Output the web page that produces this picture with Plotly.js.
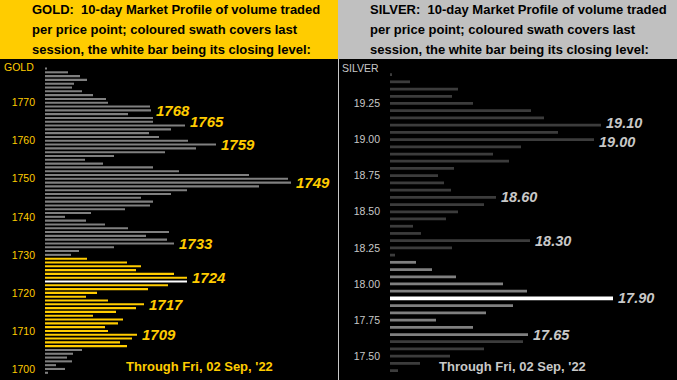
<!DOCTYPE html>
<html>
<head>
<meta charset="utf-8">
<script src="https://cdn.plot.ly/plotly-3.0.1.min.js"></script>
<style>
  html, body { margin: 0; padding: 0; background: #000; }
  #chart { width: 677px; height: 380px; }
</style>
</head>
<body>
<div id="chart"></div>
<script>
// ---------------- DATA ----------------
// GOLD: price levels ($1 steps) and 10-day volume profile (relative units)
const goldPrices = [
  1779, 1778, 1777, 1776, 1775, 1774, 1773, 1772, 1771, 1770,
  1769, 1768, 1767, 1766, 1765, 1764, 1763, 1762, 1761, 1760,
  1759, 1758, 1757, 1756, 1755, 1754, 1753, 1752, 1751, 1750,
  1749, 1748, 1747, 1746, 1745, 1744, 1743, 1742, 1741, 1740,
  1739, 1738, 1737, 1736, 1735, 1734, 1733, 1732, 1731, 1730,
  1729, 1728, 1727, 1726, 1725, 1724, 1723, 1722, 1721, 1720,
  1719, 1718, 1717, 1716, 1715, 1714, 1713, 1712, 1711, 1710,
  1709, 1708, 1707, 1706, 1705, 1704, 1703, 1702, 1701, 1700, 1699
];
const goldVolume = [
  2, 23, 35, 42, 29, 27, 37, 48, 61, 63,
  105, 106, 83, 108, 108, 140, 126, 104, 114, 143,
  171, 151, 120, 69, 40, 58, 108, 134, 204, 243,
  246, 214, 142, 126, 96, 108, 105, 80, 46, 20,
  41, 60, 83, 124, 101, 122, 129, 69, 34, 26,
  42, 82, 96, 91, 129, 142, 142, 123, 103, 52,
  41, 63, 99, 91, 71, 48, 78, 73, 60, 63,
  92, 87, 75, 82, 37, 28, 22, 27, 11, 20, 3
];
const goldSessionLow = 1706;
const goldSessionHigh = 1729;
const goldClose = 1723;
const goldLabels = [1768, 1765, 1759, 1749, 1733, 1724, 1717, 1709];
const goldTicks = [1700, 1710, 1720, 1730, 1740, 1750, 1760, 1770];

// SILVER: price levels ($0.05 steps) and 10-day volume profile (relative units)
const silverPrices = [
  19.45, 19.40, 19.35, 19.30, 19.25, 19.20, 19.15, 19.10, 19.05, 19.00,
  18.95, 18.90, 18.85, 18.80, 18.75, 18.70, 18.65, 18.60, 18.55, 18.50,
  18.45, 18.40, 18.35, 18.30, 18.25, 18.20, 18.15, 18.10, 18.05, 18.00,
  17.95, 17.90, 17.85, 17.80, 17.75, 17.70, 17.65, 17.60, 17.55, 17.50,
  17.45, 17.40
];
const silverVolume = [
  2, 20, 68, 62, 83, 141, 154, 211, 168, 204,
  131, 103, 119, 64, 48, 54, 61, 106, 94, 68,
  56, 23, 31, 140, 62, 5, 26, 42, 66, 113,
  137, 223, 123, 96, 46, 83, 138, 133, 94, 60,
  30, 8
];
const silverSessionLow = 17.65;
const silverSessionHigh = 18.15;
const silverClose = 17.90;
const silverLabels = [19.10, 19.00, 18.60, 18.30, 17.90, 17.65];
const silverTicks = [17.50, 17.75, 18.00, 18.25, 18.50, 18.75, 19.00, 19.25];

const headerGold = [
  "GOLD:\u00a0 10-day Market Profile of volume traded",
  "per price point; coloured swath covers last",
  "session, the white bar being its closing level:"
];
const headerSilver = [
  "SILVER:\u00a0 10-day Market Profile of volume traded",
  "per price point; coloured swath covers last",
  "session, the white bar being its closing level:"
];
const throughText = "Through Fri, 02 Sep, '22";

// ---------------- STYLE ----------------
const W = 677, H = 380;
const px = v => v / W;
const py = v => 1 - v / H;
const GOLD = '#FFCC00';
const GOLD_GREY = '#808080';
const SIL_DARK = '#3C3C3C';
const SIL_LIGHT = '#808080';
const SIL_TEXT = '#C8C8C8';
const FONT = 'Liberation Sans, Arial, sans-serif';
const EPS = 1e-6;

const goldColors = goldPrices.map(p =>
  Math.abs(p - goldClose) < EPS ? '#FFFFFF' :
  (p >= goldSessionLow - EPS && p <= goldSessionHigh + EPS ? GOLD : GOLD_GREY));
const silverColors = silverPrices.map(p =>
  Math.abs(p - silverClose) < EPS ? '#FFFFFF' :
  (p >= silverSessionLow - EPS && p <= silverSessionHigh + EPS ? SIL_LIGHT : SIL_DARK));
const silverWidths = silverPrices.map(p => Math.abs(p - silverClose) < EPS ? 0.025 : 0.019);

function neighbourMax(prices, vols, level, step) {
  let m = 0;
  prices.forEach((p, i) => { if (Math.abs(p - level) <= step + EPS) m = Math.max(m, vols[i]); });
  return m;
}
// nudge labels of adjacent close pairs slightly apart so they don't collide
function pairShift(labels, level, gap) {
  let s = 0;
  labels.forEach(o => {
    if (o === level) return;
    if (Math.abs(o - level) < gap - EPS) s += (level > o ? 2 : -2);
  });
  return s;
}

const traces = [
  { type: 'bar', orientation: 'h', y: goldPrices, x: goldVolume,
    xaxis: 'x', yaxis: 'y', width: 0.55,
    marker: { color: goldColors, line: { width: 0 } }, hoverinfo: 'skip' },
  { type: 'bar', orientation: 'h', y: silverPrices, x: silverVolume,
    xaxis: 'x2', yaxis: 'y2', width: silverWidths,
    marker: { color: silverColors, line: { width: 0 } }, hoverinfo: 'skip' }
];

const annotations = [];
headerGold.forEach((t, i) => annotations.push({
  xref: 'paper', yref: 'paper', x: px(30), y: py(10 + i * 19.5), xanchor: 'left', yanchor: 'middle',
  text: '<b>' + t + '</b>', showarrow: false, font: { family: FONT, size: 13, color: '#000' }
}));
headerSilver.forEach((t, i) => annotations.push({
  xref: 'paper', yref: 'paper', x: px(368), y: py(10 + i * 19.5), xanchor: 'left', yanchor: 'middle',
  text: '<b>' + t + '</b>', showarrow: false, font: { family: FONT, size: 13, color: '#000' }
}));
annotations.push({ xref: 'paper', yref: 'paper', x: px(36), y: py(67), xanchor: 'right', yanchor: 'middle',
  text: 'GOLD', showarrow: false, font: { family: FONT, size: 10.5, color: GOLD } });
annotations.push({ xref: 'paper', yref: 'paper', x: px(381), y: py(68), xanchor: 'right', yanchor: 'middle',
  text: 'SILVER', showarrow: false, font: { family: FONT, size: 10.5, color: SIL_TEXT } });

goldLabels.forEach(l => annotations.push({
  xref: 'x', yref: 'y', x: neighbourMax(goldPrices, goldVolume, l, 1), y: l,
  xanchor: 'left', yanchor: 'middle', xshift: 3.5, showarrow: false, borderpad: 0,
  text: '<b><i>' + l.toFixed(0) + '</i></b>', font: { family: FONT, size: 15, color: GOLD }
}));
silverLabels.forEach(l => annotations.push({
  xref: 'x2', yref: 'y2', x: neighbourMax(silverPrices, silverVolume, l, 0.05), y: l,
  xanchor: 'left', yanchor: 'middle', xshift: 3.5, yshift: pairShift(silverLabels, l, 0.15),
  showarrow: false, borderpad: 0,
  text: '<b><i>' + l.toFixed(2) + '</i></b>', font: { family: FONT, size: 14.5, color: SIL_TEXT }
}));
annotations.push({ xref: 'paper', yref: 'paper', x: px(199.5), y: py(366.5), xanchor: 'center', yanchor: 'middle',
  text: '<b>' + throughText + '</b>', showarrow: false, font: { family: FONT, size: 13, color: GOLD } });
annotations.push({ xref: 'paper', yref: 'paper', x: px(512), y: py(366.5), xanchor: 'center', yanchor: 'middle',
  text: '<b>' + throughText + '</b>', showarrow: false, font: { family: FONT, size: 13, color: SIL_TEXT } });

const shapes = [
  { type: 'rect', xref: 'paper', yref: 'paper', x0: 0, x1: px(338), y0: py(59), y1: 1,
    fillcolor: '#FFCC00', line: { width: 0 }, layer: 'below' },
  { type: 'rect', xref: 'paper', yref: 'paper', x0: px(338), x1: 1, y0: py(59), y1: 1,
    fillcolor: '#C0C0C0', line: { width: 0 }, layer: 'below' },
  { type: 'line', xref: 'paper', yref: 'paper', x0: px(338.5), x1: px(338.5), y0: 0, y1: py(59),
    line: { color: '#C8C8C8', width: 1 } }
];

const plotTop = py(59);
const layout = {
  width: W, height: H,
  margin: { l: 0, r: 0, t: 0, b: 0, pad: 0 },
  paper_bgcolor: '#000', plot_bgcolor: 'rgba(0,0,0,0)',
  showlegend: false, barmode: 'overlay',
  font: { family: FONT },
  xaxis: { domain: [px(45), px(338)], range: [0, 293], showgrid: false, zeroline: false,
           showticklabels: false, showline: false, fixedrange: true },
  yaxis: { domain: [0, plotTop], range: [1697.1, 1781.5], anchor: 'x',
           tickmode: 'array', tickvals: goldTicks, ticktext: goldTicks.map(v => v.toFixed(0)),
           showgrid: false, zeroline: false, showline: false, ticks: '',
           ticklabelstandoff: 9,
           tickfont: { family: FONT, size: 10.5, color: GOLD } },
  xaxis2: { domain: [px(390), 1], range: [0, 287], anchor: 'y2', showgrid: false, zeroline: false,
            showticklabels: false, showline: false },
  yaxis2: { domain: [0, plotTop], range: [17.335, 19.558], anchor: 'x2',
            tickmode: 'array', tickvals: silverTicks, ticktext: silverTicks.map(v => v.toFixed(2)),
            showgrid: false, zeroline: false, showline: false, ticks: '',
            ticklabelstandoff: 9,
            tickfont: { family: FONT, size: 10.5, color: SIL_TEXT } },
  shapes: shapes,
  annotations: annotations
};

Plotly.newPlot('chart', traces, layout, { staticPlot: true, displayModeBar: false });
</script>
</body>
</html>
